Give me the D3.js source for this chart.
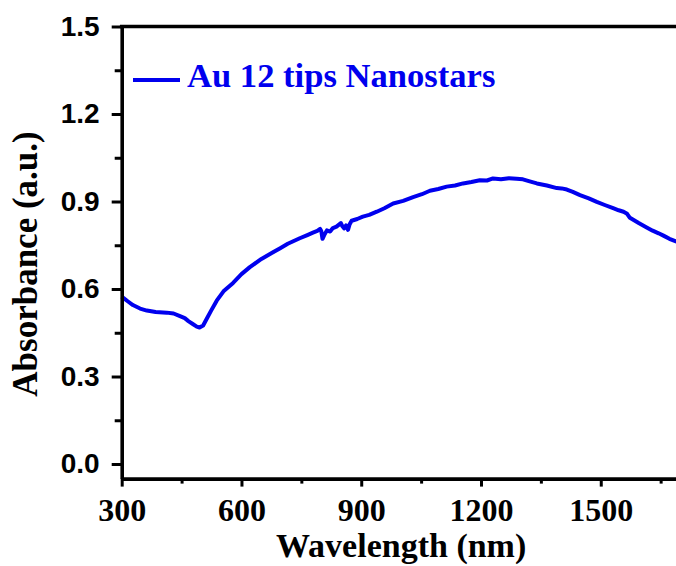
<!DOCTYPE html>
<html>
<head>
<meta charset="utf-8">
<script src="https://cdn.jsdelivr.net/npm/d3@7"></script>
<style>
  html, body { margin: 0; padding: 0; background: #fff; overflow: hidden; }
  svg { display: block; }
</style>
</head>
<body>
<svg id="chart" width="676" height="566"></svg>
<script>
// UV-Vis-NIR absorbance spectrum of Au nanostars (12 tips)
const wavelength = [300, 315, 328, 346, 363, 385, 413, 430, 446, 458, 467, 478, 488, 495, 504, 513, 524, 538, 555, 579, 600, 621, 650, 679, 697, 716, 746, 765, 779, 790, 797, 800, 803, 807, 814, 822, 829, 838, 849, 853, 857, 862, 867, 871, 876, 890, 904, 920, 939, 958, 980, 1005, 1030, 1052, 1072, 1093, 1114, 1135, 1155, 1176, 1197, 1215, 1230, 1250, 1270, 1289, 1305, 1322, 1340, 1365, 1390, 1402, 1415, 1430, 1448, 1470, 1490, 1510, 1531, 1545, 1557, 1566, 1573, 1595, 1615, 1630, 1645, 1657, 1672, 1690];
const absorbance = [0.574, 0.558, 0.545, 0.533, 0.526, 0.521, 0.519, 0.516, 0.507, 0.500, 0.490, 0.480, 0.471, 0.468, 0.475, 0.498, 0.526, 0.560, 0.592, 0.621, 0.651, 0.675, 0.703, 0.726, 0.740, 0.755, 0.774, 0.785, 0.793, 0.799, 0.806, 0.798, 0.772, 0.784, 0.801, 0.797, 0.809, 0.814, 0.826, 0.815, 0.808, 0.818, 0.803, 0.822, 0.834, 0.840, 0.848, 0.854, 0.865, 0.877, 0.893, 0.902, 0.915, 0.925, 0.937, 0.943, 0.951, 0.955, 0.962, 0.967, 0.973, 0.972, 0.979, 0.976, 0.980, 0.978, 0.976, 0.969, 0.962, 0.955, 0.946, 0.945, 0.941, 0.933, 0.922, 0.911, 0.899, 0.888, 0.877, 0.870, 0.865, 0.858, 0.844, 0.826, 0.811, 0.800, 0.791, 0.783, 0.772, 0.762];

const xMajorTicks = [300, 600, 900, 1200, 1500];
const xMinorTicks = [450, 750, 1050, 1350, 1650];
const yMajorTicks = [0.0, 0.3, 0.6, 0.9, 1.2, 1.5];
const yMinorTicks = [0.15, 0.45, 0.75, 1.05, 1.35];
const seriesName = "Au 12 tips Nanostars";
const xTitle = "Wavelength (nm)";
const yTitle = "Absorbance (a.u.)";

const lineColor = "#0000ee";
const serif = "'Liberation Serif', 'Times New Roman', serif";
const sans = "'Liberation Sans', Arial, sans-serif";

const svg = d3.select("#chart");

const x = d3.scaleLinear().domain([300, 1700]).range([121.7, 680.6]);
const y = d3.scaleLinear().domain([-0.05, 1.5]).range([478.6, 26.5]);

const plotLeft = x.range()[0], plotRight = x.range()[1];
const plotTop = y.range()[1], plotBottom = y.range()[0];

// spectrum
const line = d3.line()
  .x((d, i) => x(wavelength[i]))
  .y(d => y(d));

svg.append("path")
  .datum(absorbance)
  .attr("fill", "none")
  .attr("stroke", lineColor)
  .attr("stroke-width", 4)
  .attr("stroke-linejoin", "round")
  .attr("d", line);

// bottom axis
const gx = svg.append("g").attr("transform", `translate(0,${plotBottom})`);
gx.call(d3.axisBottom(x).tickValues(xMajorTicks).tickSize(8).tickSizeOuter(0).tickPadding(12).tickFormat(d3.format("d")));
svg.append("g").attr("transform", `translate(0,${plotBottom})`)
  .call(d3.axisBottom(x).tickValues(xMinorTicks).tickSize(5).tickFormat(""))
  .call(g => g.select(".domain").remove());

// left axis
const gy = svg.append("g").attr("transform", `translate(${plotLeft},0)`);
gy.call(d3.axisLeft(y).tickValues(yMajorTicks).tickSize(10).tickSizeOuter(0).tickPadding(12).tickFormat(d3.format(".1f")));
svg.append("g").attr("transform", `translate(${plotLeft},0)`)
  .call(d3.axisLeft(y).tickValues(yMinorTicks).tickSize(7).tickFormat(""))
  .call(g => g.select(".domain").remove());

svg.selectAll(".domain").attr("stroke", "#000").attr("stroke-width", 3.6);
svg.selectAll(".tick line").attr("stroke", "#000").attr("stroke-width", 3);

gx.selectAll(".tick text")
  .attr("font-family", serif).attr("font-weight", "bold").attr("font-size", 32)
  .attr("fill", "#000");
gy.selectAll(".tick text")
  .attr("font-family", sans).attr("font-weight", "bold").attr("font-size", 28)
  .attr("fill", "#000");

// top frame line
svg.append("line")
  .attr("x1", plotLeft - 1.8).attr("x2", 676)
  .attr("y1", plotTop).attr("y2", plotTop)
  .attr("stroke", "#000").attr("stroke-width", 3.6);

// axis titles
svg.append("text")
  .attr("x", (plotLeft + plotRight) / 2).attr("y", 557)
  .attr("text-anchor", "middle")
  .attr("font-family", serif).attr("font-weight", "bold").attr("font-size", 34)
  .text(xTitle);

svg.append("text")
  .attr("transform", `translate(37,264) rotate(-90)`)
  .attr("text-anchor", "middle")
  .attr("font-family", serif).attr("font-weight", "bold").attr("font-size", 35)
  .text(yTitle);

// legend
svg.append("line")
  .attr("x1", 133).attr("x2", 180)
  .attr("y1", 80).attr("y2", 80)
  .attr("stroke", lineColor).attr("stroke-width", 4);
svg.append("text")
  .attr("x", 187).attr("y", 87)
  .attr("font-family", serif).attr("font-weight", "bold").attr("font-size", 34.6)
  .attr("fill", lineColor)
  .text(seriesName);
</script>
</body>
</html>
